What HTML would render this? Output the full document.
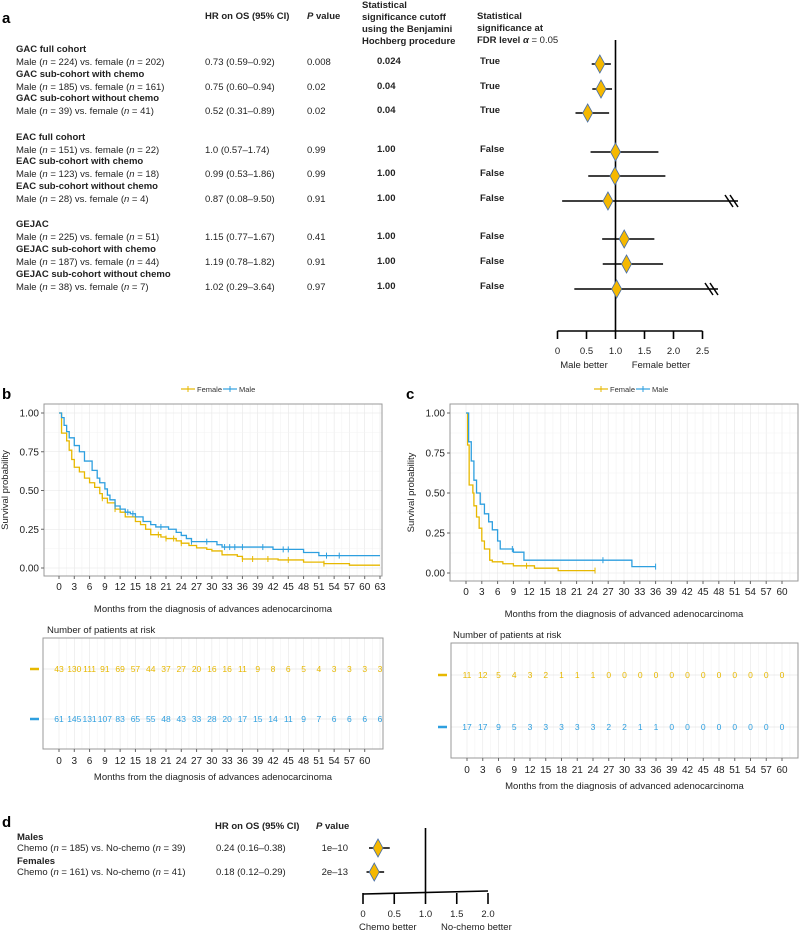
<!DOCTYPE html>
<html><head><meta charset="utf-8">
<style>
html,body{margin:0;padding:0;background:#fff;}
svg{display:block;font-family:"Liberation Sans",Arial,sans-serif;}
.b{font-weight:bold;}
</style></head>
<body>
<svg id="fig" width="799" height="932" viewBox="0 0 799 932" xmlns="http://www.w3.org/2000/svg"></svg>
<script>
// ---- Panel a data ----
const aGroups = ["GAC full cohort","GAC sub-cohort with chemo","GAC sub-cohort without chemo","EAC full cohort","EAC sub-cohort with chemo","EAC sub-cohort without chemo","GEJAC","GEJAC sub-cohort with chemo","GEJAC sub-cohort without chemo"];
const aMaleN = [224,185,39,151,123,28,225,187,38];
const aFemaleN = [202,161,41,22,18,4,51,44,7];
const aHR = [0.73,0.75,0.52,1.0,0.99,0.87,1.15,1.19,1.02];
const aLo = [0.59,0.60,0.31,0.57,0.53,0.08,0.77,0.78,0.29];
const aHi = [0.92,0.94,0.89,1.74,1.86,9.50,1.67,1.82,3.64];
const aHRtxt = ["0.73 (0.59–0.92)","0.75 (0.60–0.94)","0.52 (0.31–0.89)","1.0 (0.57–1.74)","0.99 (0.53–1.86)","0.87 (0.08–9.50)","1.15 (0.77–1.67)","1.19 (0.78–1.82)","1.02 (0.29–3.64)"];
const aP = ["0.008","0.02","0.02","0.99","0.99","0.91","0.41","0.91","0.97"];
const aCut = ["0.024","0.04","0.04","1.00","1.00","1.00","1.00","1.00","1.00"];
const aSig = ["True","True","True","False","False","False","False","False","False"];
const aTicks = [0,0.5,1.0,1.5,2.0,2.5];
// ---- Panel b data ----
const bFemT = [0,0.5,1.5,2,2.5,3,4,5,6,7,8,8.5,9.5,11,12,13,15,16,17,18,20,21,23,24,25.5,27,29,30,32,35,36,43,48,52,57];
const bFemS = [1,0.87,0.82,0.76,0.70,0.65,0.62,0.58,0.55,0.52,0.48,0.45,0.42,0.38,0.36,0.33,0.30,0.28,0.25,0.215,0.20,0.19,0.175,0.16,0.145,0.13,0.12,0.11,0.085,0.075,0.058,0.052,0.038,0.028,0.018];
const bMaleT = [0,0.5,1,1.5,2,3,4,5,6.5,7.5,8,9,9.5,10,11,12,13,14,15,16.5,18,19,21.5,23,24,25,26,31,32,42,48,51];
const bMaleS = [1,0.97,0.92,0.88,0.84,0.79,0.75,0.69,0.63,0.58,0.55,0.51,0.47,0.44,0.40,0.38,0.36,0.35,0.33,0.30,0.28,0.265,0.25,0.23,0.21,0.19,0.17,0.15,0.135,0.12,0.10,0.08];
const bEnd = 63;
const bFemCens = [8.5,11,19.5,21,22.5,24,36,38,41,45,52];
const bMaleCens = [11,13.5,14.5,20,26,29,32.5,33.5,34.5,36,40,44,45,52.5,55];
const bXTicks = [0,3,6,9,12,15,18,21,24,27,30,33,36,39,42,45,48,51,54,57,60,63];
const bRiskF = [43,130,111,91,69,57,44,37,27,20,16,16,11,9,8,6,5,4,3,3,3,3];
const bRiskM = [61,145,131,107,83,65,55,48,43,33,28,20,17,15,14,11,9,7,6,6,6,6];
const bRiskTicks = [0,3,6,9,12,15,18,21,24,27,30,33,36,39,42,45,48,51,54,57,60];
// ---- Panel c data ----
const cFemT = [0,0.3,0.6,1.3,1.5,2,2.5,3,3.5,4.5,5,7,9,13,17.5];
const cFemS = [1,0.8,0.55,0.5,0.42,0.35,0.28,0.2,0.15,0.08,0.07,0.058,0.045,0.03,0.015];
const cFemEnd = 24.5;
const cMaleT = [0,0.5,1,1.5,2,2.7,3.5,4.3,5,6,6.5,9,11,31.5];
const cMaleS = [1,0.82,0.7,0.58,0.5,0.43,0.37,0.32,0.27,0.2,0.15,0.13,0.08,0.04];
const cMaleEnd = 36;
const cFemCens = [11.5,24.5];
const cMaleCens = [8.8,26,36];
const cXTicks = [0,3,6,9,12,15,18,21,24,27,30,33,36,39,42,45,48,51,54,57,60];
const cRiskF = [11,12,5,4,3,2,1,1,1,0,0,0,0,0,0,0,0,0,0,0,0];
const cRiskM = [17,17,9,5,3,3,3,3,3,2,2,1,1,0,0,0,0,0,0,0,0];
// ---- Panel d data ----
const dGroups = ["Males","Females"];
const dChemoN = [185,161];
const dNoN = [39,41];
const dHR = [0.24,0.18];
const dLo = [0.16,0.12];
const dHi = [0.38,0.29];
const dHRtxt = ["0.24 (0.16–0.38)","0.18 (0.12–0.29)"];
const dP = ["1e–10","2e–13"];
const dTicks = [0,0.5,1.0,1.5,2.0];

const FEM="#E7B800", MALE="#2E9FDF";
const NS="http://www.w3.org/2000/svg";
const svg=document.getElementById('fig');
function el(tag,attrs,parent,txt){const e=document.createElementNS(NS,tag);for(const k in attrs)e.setAttribute(k,attrs[k]);if(txt!==undefined)e.innerHTML=txt;(parent||svg).appendChild(e);return e;}
function g(name){const e=el('g',{});return e;}
function T(p,x,y,s,size,extra){const a=Object.assign({x:x,y:y,'font-size':size||10,fill:'#222'},extra||{});return el('text',a,p,s);}

// ===== Panel a =====
const pa=g('panel-a');
T(pa,2,23,'a',15,{'font-weight':'bold',fill:'#000'});
const hdr=g('panel-a-header');pa.appendChild(hdr);
T(hdr,205,19,'HR on OS (95% CI)',9.5,{'font-weight':'bold'});
T(hdr,307,19,'<tspan font-style="italic">P</tspan> value',9.5,{'font-weight':'bold'});
['Statistical','significance cutoff','using the Benjamini','Hochberg procedure'].forEach((s,i)=>T(hdr,362,8+i*12,s,9.5,{'font-weight':'bold'}));
['Statistical','significance at'].forEach((s,i)=>T(hdr,477,19+i*12,s,9.5,{'font-weight':'bold'}));
T(hdr,477,43,'FDR level <tspan font-style="italic">α</tspan> <tspan font-weight="normal">= 0.05</tspan>',9.5,{'font-weight':'bold'});
const aRowY=[64,89,113,152,176,201,239,264,289];
const ax0=557.5, axs=58;
function xa(v){return ax0+v*axs;}
const fa=g('panel-a-forest');pa.appendChild(fa);
el('line',{x1:xa(1),y1:40,x2:xa(1),y2:331,stroke:'#000','stroke-width':1.6},fa);
el('line',{x1:xa(0),y1:331,x2:xa(2.5),y2:331,stroke:'#000','stroke-width':1.6},fa);
aTicks.forEach(t=>{el('line',{x1:xa(t),y1:331,x2:xa(t),y2:339,stroke:'#000','stroke-width':1.6},fa);T(fa,xa(t),354,t===0?'0':t.toFixed(1),9.5,{'text-anchor':'middle'});});
T(fa,584,368,'Male better',9.5,{'text-anchor':'middle'});
T(fa,661,368,'Female better',9.5,{'text-anchor':'middle'});
aGroups.forEach((name,i)=>{
  const y=aRowY[i];
  const r=g('row-'+name.toLowerCase().replace(/[^a-z]+/g,'-'));pa.appendChild(r);
  T(r,16,y-13+1,name,9.5,{'font-weight':'bold'});
  T(r,16,y+1,'Male (<tspan font-style="italic">n</tspan> = '+aMaleN[i]+') vs. female (<tspan font-style="italic">n</tspan> = '+aFemaleN[i]+')',9.5);
  T(r,205,y+1,aHRtxt[i],9.5);
  T(r,307,y+1,aP[i],9.5);
  T(r,377,y,aCut[i],9.5,{'font-weight':'bold'});
  T(r,480,y,aSig[i],9.5,{'font-weight':'bold'});
  const cap=2.9; let hi=Math.min(aHi[i],cap);
  let xe=hi===cap?(aHi[i]>5?738:718):xa(hi);
  el('line',{x1:xa(aLo[i]),y1:y,x2:xe,y2:y,stroke:'#000','stroke-width':1.6},r);
  if(hi===cap){const bx=xe-8;[0,5].forEach(o=>el('line',{x1:bx-5+o,y1:y-6,x2:bx+3+o,y2:y+6,stroke:'#000','stroke-width':1.5},r));}
  const cx=xa(aHR[i]);
  const d=el('path',{d:`M${cx},${y-9}L${cx+5},${y}L${cx},${y+9}L${cx-5},${y}Z`,fill:'#F5B800',stroke:'#4a6fa5','stroke-width':0.8},r);
  
});

// ===== KM helper =====
function km(p,opt){
  const {L,R,Top,Bot,x0,xpm,y1,y0,ticks,xlab,fT,fS,fEnd,mT,mS,mEnd,fC,mC,xmax,letter,lx,legX}=opt;
  const X=t=>x0+t*xpm, Y=s=>y0+(y1-y0)*s;
  T(p,lx,399,letter,15,{'font-weight':'bold',fill:'#000'});
  const lg=g('legend');p.appendChild(lg);
  el('line',{x1:legX,y1:389,x2:legX+14,y2:389,stroke:FEM,'stroke-width':1.2},lg);el('line',{x1:legX+7,y1:386,x2:legX+7,y2:392,stroke:FEM},lg);
  T(lg,legX+16,392,'Female',7.5,{fill:'#333'});
  el('line',{x1:legX+42,y1:389,x2:legX+56,y2:389,stroke:MALE,'stroke-width':1.2},lg);el('line',{x1:legX+49,y1:386,x2:legX+49,y2:392,stroke:MALE},lg);
  T(lg,legX+58,392,'Male',7.5,{fill:'#333'});
  const pl=g('plot-area');p.appendChild(pl);
  for(let t=0;t<=xmax;t+=1.5)el('line',{x1:X(t),y1:Top,x2:X(t),y2:Bot,stroke:(t%3===0)?'#e6e6e6':'#f3f3f3','stroke-width':0.6},pl);
  for(let s=0;s<=1.0001;s+=0.125)el('line',{x1:L,y1:Y(s),x2:R,y2:Y(s),stroke:(Math.round(s*8)%2===0)?'#e6e6e6':'#f3f3f3','stroke-width':0.6},pl);
  el('rect',{x:L,y:Top,width:R-L,height:Bot-Top,fill:'none',stroke:'#999','stroke-width':1},pl);
  [0,0.25,0.5,0.75,1].forEach(s=>{el('line',{x1:L-3,y1:Y(s),x2:L,y2:Y(s),stroke:'#666'},pl);T(pl,L-5,Y(s)+3.5,s.toFixed(2),10,{'text-anchor':'end',fill:'#222'});});
  ticks.forEach(t=>{el('line',{x1:X(t),y1:Bot,x2:X(t),y2:Bot+3,stroke:'#666'},pl);T(pl,X(t),Bot+14,t,10,{'text-anchor':'middle'});});
  T(pl,(L+R)/2,Bot+36,xlab,9.5,{'text-anchor':'middle'});
  const yt=T(pl,0,0,'Survival probability',9.5,{'text-anchor':'middle',transform:`translate(${L-36},${(Top+Bot)/2}) rotate(-90)`});
  function step(Ts,Ss,end,col,cens,name){
    let d=`M${X(Ts[0])},${Y(Ss[0])}`;
    for(let i=1;i<Ts.length;i++){d+=`H${X(Ts[i])}V${Y(Ss[i])}`;}
    d+=`H${X(end)}`;
    const pth=el('path',{d:d,fill:'none',stroke:col,'stroke-width':1.3},pl);
    
    cens.forEach(c=>{let s=Ss[0];for(let i=0;i<Ts.length;i++)if(Ts[i]<=c)s=Ss[i];el('line',{x1:X(c),y1:Y(s)-3,x2:X(c),y2:Y(s)+3,stroke:col,'stroke-width':1},pl);});
  }
  step(fT,fS,fEnd,FEM,fC,'female-curve');
  step(mT,mS,mEnd,MALE,mC,'male-curve');
}
function risk(p,opt){
  const {L,R,Top,Bot,x0,xpm,ticks,valT,rf,rm,yf,ym,xlab,titleX}=opt;
  const X=t=>x0+t*xpm;
  T(p,titleX,Top-5,'Number of patients at risk',9.5);
  const rt=g('risk-table');p.appendChild(rt);
  for(let t=0;t<=63;t+=1.5)if(X(t)<R)el('line',{x1:X(t),y1:Top,x2:X(t),y2:Bot,stroke:(t%3===0)?'#e6e6e6':'#f3f3f3','stroke-width':0.6},rt);
  [yf,ym].forEach(y=>el('line',{x1:L,y1:y,x2:R,y2:y,stroke:'#e6e6e6','stroke-width':0.8},rt));
  el('rect',{x:L,y:Top,width:R-L,height:Bot-Top,fill:'none',stroke:'#999'},rt);
  el('line',{x1:L-13,y1:yf,x2:L-4,y2:yf,stroke:FEM,'stroke-width':2.5},rt);
  el('line',{x1:L-13,y1:ym,x2:L-4,y2:ym,stroke:MALE,'stroke-width':2.5},rt);
  rf.forEach((v,i)=>T(rt,X(valT[i]),yf+3,v,8.5,{'text-anchor':'middle',fill:FEM}));
  rm.forEach((v,i)=>T(rt,X(valT[i]),ym+3,v,8.5,{'text-anchor':'middle',fill:MALE}));
  ticks.forEach(t=>{el('line',{x1:X(t),y1:Bot,x2:X(t),y2:Bot+3,stroke:'#666'},rt);T(rt,X(t),Bot+15,t,10,{'text-anchor':'middle'});});
  T(rt,(L+R)/2,Bot+31,xlab,9.5,{'text-anchor':'middle'});
}
// ===== Panel b =====
const pb=g('panel-b');
km(pb,{L:44,R:382,Top:404,Bot:576,x0:59,xpm:321/63,y1:413,y0:568,ticks:bXTicks,xlab:'Months from the diagnosis of advances adenocarcinoma',
  fT:bFemT,fS:bFemS,fEnd:bEnd,mT:bMaleT,mS:bMaleS,mEnd:bEnd,fC:bFemCens,mC:bMaleCens,xmax:63,letter:'b',lx:2,legX:181});
risk(pb,{L:43,R:383,Top:638,Bot:749,x0:59,xpm:321/63,ticks:bRiskTicks,valT:bXTicks,rf:bRiskF,rm:bRiskM,yf:669,ym:719,xlab:'Months from the diagnosis of advances adenocarcinoma',titleX:47});
// ===== Panel c =====
const pc=g('panel-c');
km(pc,{L:450,R:798,Top:404,Bot:581,x0:466,xpm:316/60,y1:413,y0:573,ticks:cXTicks,xlab:'Months from the diagnosis of advanced adenocarcinoma',
  fT:cFemT,fS:cFemS,fEnd:cFemEnd,mT:cMaleT,mS:cMaleS,mEnd:cMaleEnd,fC:cFemCens,mC:cMaleCens,xmax:63,letter:'c',lx:406,legX:594});
risk(pc,{L:451,R:798,Top:643,Bot:758,x0:467,xpm:315/60,ticks:cXTicks,valT:cXTicks,rf:cRiskF,rm:cRiskM,yf:675,ym:727,xlab:'Months from the diagnosis of advanced adenocarcinoma',titleX:453});
// ===== Panel d =====
const pd=g('panel-d');
T(pd,2,827,'d',15,{'font-weight':'bold',fill:'#000'});
T(pd,215,829,'HR on OS (95% CI)',9.5,{'font-weight':'bold'});
T(pd,316,829,'<tspan font-style="italic">P</tspan> value',9.5,{'font-weight':'bold'});
const dx0=363, dxs=62.5, xd=v=>dx0+v*dxs;
el('line',{x1:xd(1),y1:828,x2:xd(1),y2:893,stroke:'#000','stroke-width':1.6},pd);
el('line',{x1:xd(0),y1:894,x2:xd(2),y2:891,stroke:'#000','stroke-width':1.6},pd);
dTicks.forEach(t=>{el('line',{x1:xd(t),y1:893,x2:xd(t),y2:904,stroke:'#000','stroke-width':1.6},pd);T(pd,xd(t),917,t===0?'0':t.toFixed(1),9.5,{'text-anchor':'middle'});});
T(pd,359,930,'Chemo better',9.5);T(pd,441,930,'No-chemo better',9.5);
const dRowY=[848,872];
dGroups.forEach((name,i)=>{
  const y=dRowY[i];const r=g('row-'+name.toLowerCase());pd.appendChild(r);
  T(r,17,y-8,name,9.5,{'font-weight':'bold'});
  T(r,17,y+3,'Chemo (<tspan font-style="italic">n</tspan> = '+dChemoN[i]+') vs. No-chemo (<tspan font-style="italic">n</tspan> = '+dNoN[i]+')',9.5);
  T(r,216,y+3,dHRtxt[i],9.5);
  T(r,348,y+3,dP[i],9.5,{'text-anchor':'end'});
  el('line',{x1:xd(dLo[i])-4,y1:y,x2:xd(dHi[i])+3,y2:y,stroke:'#000','stroke-width':1.6},r);
  const cx=xd(dHR[i]);
  el('path',{d:`M${cx},${y-9}L${cx+5},${y}L${cx},${y+9}L${cx-5},${y}Z`,fill:'#F5B800',stroke:'#4a6fa5','stroke-width':0.8},r);
});
</script>
</body></html>
